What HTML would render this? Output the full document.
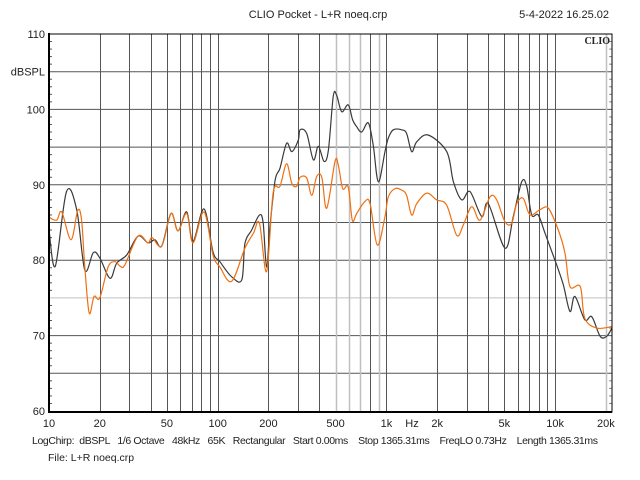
<!DOCTYPE html>
<html><head><meta charset="utf-8"><style>
body{margin:0;background:#fff;}
svg{display:block;font-family:"Liberation Sans",sans-serif;}
</style></head><body>
<svg id="chart" width="640" height="480">
<text x="318" y="18" font-size="11" text-anchor="middle" fill="#222">CLIO Pocket - L+R noeq.crp</text>
<text x="609" y="18" font-size="11" text-anchor="end" fill="#222">5-4-2022 16.25.02</text>
<g id="grid"></g>
<g id="curves"></g>
<rect x="49" y="34" width="563" height="378" fill="none" stroke="#000" stroke-width="1"/>
<line x1="49" y1="33" x2="49" y2="413" stroke="#000" stroke-width="2"/>
<line x1="48" y1="412" x2="612" y2="412" stroke="#000" stroke-width="2"/>
<text x="610" y="44" font-size="10" font-weight="bold" text-anchor="end" font-family="Liberation Serif,serif" fill="#222">CLIO</text>
<g id="labels"></g>
<text x="32" y="444" font-size="10.5" fill="#222" textLength="566" lengthAdjust="spacing" style="white-space:pre">LogChirp:  dBSPL   1/6 Octave   48kHz   65K   Rectangular   Start 0.00ms    Stop 1365.31ms    FreqLO 0.73Hz    Length 1365.31ms</text>
<text x="48" y="461" font-size="10.5" fill="#222">File: L+R noeq.crp</text>
</svg>
<script>
const xTickFreqs=[10,20,50,100,200,500,1000,2000,5000,10000,20000];
const xTickLabels=["10","20","50","100","200","500","1k","2k","5k","10k","20k"];
const yTickValues=[110,105,100,90,80,70,60];
const yTickLabels=["110","dBSPL","100","90","80","70","60"];
const blackFreq=[10,10.9,12.7,14.6,16.3,18.3,20,23,25.2,28.9,33.7,38.6,42.5,46.6,52.9,58.2,65.5,71.4,83,93.8,103,121,139,145,159,177,186,195,204,219,234,256,275,300,308,337,369,395,427,453,484,507,543,594,631,667,714,782,837,896,981,1026,1099,1232,1318,1412,1513,1766,2276,2495,2795,3130,3675,4020,5045,5650,6340,6790,7265,7950,8710,10200,11200,12250,13100,15000,16500,18500,20200,22600];
const blackDb=[84,79.2,89.1,86.7,78.7,81,80.3,77.6,79.6,80.7,83.2,82.3,82.7,81.9,86.2,83.9,86.4,82.5,86.8,81.1,79.8,77.8,77.4,82.2,84,86,84.9,79.1,84.4,90.6,92.2,95.5,94.4,95.9,97.3,96.8,93.3,95.1,93.1,94.6,101.7,101.9,99.7,100.6,98.6,97.7,97,98.2,95.1,90.4,94.4,96.2,97.3,97.3,96.8,94.4,95.7,96.6,94.4,90.4,88,89.1,85.8,87.5,81.6,85.8,90.4,89.8,86,86,83.6,79.4,76.7,73.2,75.2,72.1,72.5,69.9,69.9,71];
const orangeFreq=[10,11.1,11.9,13.5,14.8,15.6,16.3,17.3,18.5,20,22.4,24.6,26.4,28.2,33.7,38.6,40.8,46.6,52.9,58.2,65.5,71.4,83,93.8,103,121,145,163,177,195,213,234,256,275,294,308,337,361,386,414,443,496,519,551,594,628,667,747,800,883,981,1026,1125,1232,1318,1412,1513,1734,1986,2276,2612,2860,3205,3590,4115,4505,5045,5530,5920,6480,7100,8130,9120,10450,11450,12250,14100,15000,17700,22200];
const orangeDb=[85.7,85.3,86.4,82.7,86.6,85.3,79.1,73,75.2,75,79.1,79.8,79.2,79.4,83.2,82.3,83,81.9,86.2,83.9,86.2,82.3,86.4,80.7,79.1,77.2,81.6,83.6,84.9,78.5,88.9,89.8,92.8,90.2,89.8,91,90.9,88.6,91.1,91,86.9,93.1,92.6,89.5,89.7,85.3,86.2,87.8,87.5,82,85.8,88.4,89.5,89.3,88.6,86,87.5,88.9,88,87.3,83.3,84.7,87.1,85.3,88.4,88,85.1,84.9,87.5,88.2,86,86.7,86.9,84,80.9,76.5,76.5,72.3,71,71.2];

const NS="http://www.w3.org/2000/svg";
const X0=49,PXD=168.7,Y0=34,PXDB=7.54;
function xScale(f){return X0+Math.log10(f/10)*PXD;}
function yScale(db){return Y0+(110-db)*PXDB;}
const grid=document.getElementById('grid');
const labels=document.getElementById('labels');
const curves=document.getElementById('curves');
const light=[75];
for(let d=65;d<=105;d+=5){
  const ln=document.createElementNS(NS,'line');
  
  
  const y=yScale(d);
  ln.setAttribute('x1',X0);ln.setAttribute('x2',612);ln.setAttribute('y1',y);ln.setAttribute('y2',y);
  ln.setAttribute('stroke',light.includes(d)?'#c0c0c0':'#555');ln.setAttribute('stroke-width','1');
  grid.appendChild(ln);
}
for(let d=61;d<110;d++){
  if(d%5===0)continue;
  const y=yScale(d);
  const t=document.createElementNS(NS,'line');
  
  
  t.setAttribute('x1',X0);t.setAttribute('x2',X0+3);t.setAttribute('y1',y);t.setAttribute('y2',y);t.setAttribute('stroke','#555');
  grid.appendChild(t);
  const t2=document.createElementNS(NS,'line');
  
  
  t2.setAttribute('x1',609);t2.setAttribute('x2',612);t2.setAttribute('y1',y);t2.setAttribute('y2',y);t2.setAttribute('stroke','#888');
  grid.appendChild(t2);
}
const lightF=[500,600,700,900,20000];
[10,100,1000,10000].forEach(dec=>{
  for(let m=1;m<=9;m++){
    const f=dec*m;
    if(f<=10||f>20000)continue;
    const ln=document.createElementNS(NS,'line');
    
    
    const x=Math.round(xScale(f))+0.5;
    ln.setAttribute('x1',x);ln.setAttribute('x2',x);ln.setAttribute('y1',Y0);ln.setAttribute('y2',412);
    ln.setAttribute('stroke',lightF.includes(f)?'#c0c0c0':'#555');ln.setAttribute('stroke-width',lightF.includes(f)?'1.5':'1');
    grid.appendChild(ln);
  }
});
xTickFreqs.forEach((f,i)=>{
  const t=document.createElementNS(NS,'text');
  
  
  t.setAttribute('x',xScale(f));t.setAttribute('y',427);t.setAttribute('font-size','11');
  t.setAttribute('text-anchor','middle');t.setAttribute('fill','#222');
  t.textContent=xTickLabels[i];labels.appendChild(t);
});
const hz=document.createElementNS(NS,'text');


hz.setAttribute('x',412);hz.setAttribute('y',427);hz.setAttribute('font-size','11');hz.setAttribute('text-anchor','middle');hz.setAttribute('fill','#222');
hz.textContent='Hz';labels.appendChild(hz);
yTickValues.forEach((v,i)=>{
  const t=document.createElementNS(NS,'text');
  
  
  t.setAttribute('x',45);t.setAttribute('y',yScale(v)+4);t.setAttribute('font-size','11');
  t.setAttribute('text-anchor','end');t.setAttribute('fill','#222');
  t.textContent=yTickLabels[i];labels.appendChild(t);
});
function drawCurve(fr,db,color,name){
  const pts=fr.map((f,i)=>[Math.min(612,xScale(f)),yScale(db[i])]);
  let d='M'+pts[0][0].toFixed(1)+','+pts[0][1].toFixed(1);
  for(let i=0;i<pts.length-1;i++){
    const p0=pts[Math.max(0,i-1)],p1=pts[i],p2=pts[i+1],p3=pts[Math.min(pts.length-1,i+2)];
    const c1x=p1[0]+(p2[0]-p0[0])/6,c1y=p1[1]+(p2[1]-p0[1])/6;
    const c2x=p2[0]-(p3[0]-p1[0])/6,c2y=p2[1]-(p3[1]-p1[1])/6;
    d+=' C'+c1x.toFixed(1)+','+c1y.toFixed(1)+' '+c2x.toFixed(1)+','+c2y.toFixed(1)+' '+p2[0].toFixed(1)+','+p2[1].toFixed(1);
  }
  const p=document.createElementNS(NS,'path');
  
  
  p.setAttribute('d',d);
  p.setAttribute('fill','none');p.setAttribute('stroke',color);p.setAttribute('stroke-width','1.2');
  p.setAttribute('stroke-linejoin','round');
  curves.appendChild(p);
}
drawCurve(blackFreq,blackDb,'#3a3a3a','curve-black');
drawCurve(orangeFreq,orangeDb,'#f07010','curve-orange');
</script>
</body></html>
